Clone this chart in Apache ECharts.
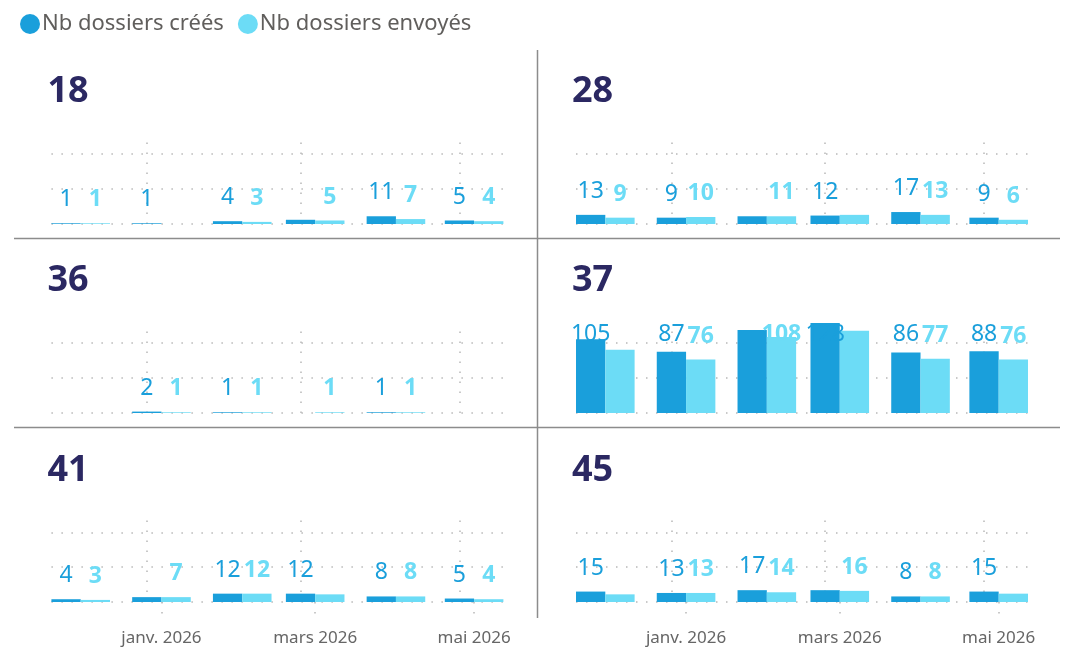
<!DOCTYPE html>
<html>
<head>
<meta charset="utf-8">
<script src="https://cdn.jsdelivr.net/npm/echarts@6/dist/echarts.min.js"></script>
<style>
  html, body { margin: 0; padding: 0; background: #ffffff; }
  #chart { width: 1069px; height: 647px; }
</style>
</head>
<body>
<div id="chart"></div>
<script>
// Months (first day of each month) shown in every panel
const months = ['2025-12-01', '2026-01-01', '2026-02-01', '2026-03-01', '2026-04-01', '2026-05-01'];

// Bottom axis ticks
const tickDates = ['2026-01-01', '2026-03-01', '2026-05-01'];
const tickLabels = ['janv. 2026', 'mars 2026', 'mai 2026'];

const seriesNames = ['Nb dossiers créés', 'Nb dossiers envoyés'];

// Values per département (null = no bar)
const created18 = [1, 1, 4, 6, 11, 5];
const sent18    = [1, null, 3, 5, 7, 4];
const created28 = [13, 9, 11, 12, 17, 9];
const sent28    = [9, 10, 11, 13, 13, 6];
const created36 = [null, 2, 1, null, 1, null];
const sent36    = [null, 1, 1, 1, 1, null];
const created37 = [105, 87, 118, 128, 86, 88];
const sent37    = [90, 76, 108, 117, 77, 76];
const created41 = [4, 7, 12, 12, 8, 5];
const sent41    = [3, 7, 12, 11, 8, 4];
const created45 = [15, 13, 17, 17, 8, 15];
const sent45    = [11, 13, 14, 16, 8, 12];

// Labels left out because they collide with a neighbour: [series, month]
const hiddenLabels = {
  '18': [[0, 3]],
  '28': [[0, 2], [1, 3]],
  '36': [],
  '37': [[1, 0], [0, 2], [1, 3]],
  '41': [[0, 1], [1, 3]],
  '45': [[1, 0], [0, 3], [1, 5]]
};

const panels = [
  { title: '18', created: created18, sent: sent18 },
  { title: '28', created: created28, sent: sent28 },
  { title: '36', created: created36, sent: sent36 },
  { title: '37', created: created37, sent: sent37 },
  { title: '41', created: created41, sent: sent41 },
  { title: '45', created: created45, sent: sent45 }
];

// ---- styling / layout ----
const COLORS = ['#1a9fdb', '#6cdcf6'];
const GRID_LINE = { color: '#b8b8b8', width: 1.5, type: [1.5, 8.5] };
const colLeft = [51.4, 576];
const gridWidth = 452;
const rowTop = [134, 323, 513];
const gridHeight = 90;
const DAY = 86400000;

// dates are placed on a continuous day scale (days since 1970-01-01, UTC)
function toDay(s) {
  const p = s.split('-').map(Number);
  return Date.UTC(p[0], p[1] - 1, p[2]) / DAY;
}

const monthDays = months.map(toDay);
const halfGroup = 11.25;
const xMin = monthDays[0] - halfGroup;
const xMax = monthDays[monthDays.length - 1] + halfGroup;
const tickDays = tickDates.map(toDay);

let yMax = 0;
panels.forEach(p => p.created.concat(p.sent).forEach(v => { if (v != null && v > yMax) yMax = v; }));

const grids = [], xAxes = [], yAxes = [], titles = [], series = [];

panels.forEach((p, i) => {
  const row = Math.floor(i / 2), col = i % 2;
  const top = rowTop[row];
  const isBottom = row === 2;

  grids.push({ left: colLeft[col], top: top, width: gridWidth, height: gridHeight });

  titles.push({
    text: p.title, left: colLeft[col] - 4, top: top - 60, padding: 0,
    textStyle: { fontFamily: 'Noto Sans', fontSize: 36, fontWeight: 'bold', color: '#2b2862' }
  });

  xAxes.push({
    type: 'value', gridIndex: i, min: xMin, max: xMax,
    axisLine: { show: false },
    axisTick: { show: isBottom, customValues: tickDays, length: 17, lineStyle: GRID_LINE },
    axisLabel: {
      show: isBottom, customValues: tickDays, margin: 28,
      fontFamily: 'Noto Sans', fontSize: 17, color: '#666666',
      formatter: v => { const k = tickDays.indexOf(v); return k >= 0 ? tickLabels[k] : ''; }
    },
    splitLine: { show: false }
  });

  yAxes.push({
    type: 'value', gridIndex: i, min: 0, max: yMax, interval: 50,
    axisLine: { show: false }, axisTick: { show: false }, axisLabel: { show: false },
    splitLine: { show: true, showMaxLine: false, lineStyle: GRID_LINE }
  });

  const hidden = hiddenLabels[p.title];
  [p.created, p.sent].forEach((vals, s) => {
    const data = [];
    vals.forEach((v, m) => {
      if (v == null) return;
      const item = { value: [monthDays[m], v] };
      if (hidden.some(h => h[0] === s && h[1] === m)) item.label = { show: false };
      data.push(item);
    });
    const bar = {
      type: 'bar', name: seriesNames[s], xAxisIndex: i, yAxisIndex: i,
      barWidth: 29.3, barGap: '0%',
      itemStyle: { color: COLORS[s] },
      label: {
        show: true, position: 'top', distance: 12,
        fontFamily: 'Noto Sans', fontSize: 23,
        fontWeight: s === 0 ? 'normal' : 'bold', color: COLORS[s]
      },
      // keep labels inside the panel's plotting area
      labelLayout: function (params) {
        if (params.labelRect && params.labelRect.y < top) {
          return {
            x: params.rect.x + params.rect.width / 2, y: top,
            align: 'center', verticalAlign: 'top'
          };
        }
        return {};
      },
      data: data
    };
    if (s === 0) {
      // vertical dotted gridlines at the labelled months
      bar.markLine = {
        silent: true, symbol: 'none', label: { show: false },
        lineStyle: GRID_LINE, z: 0,
        data: tickDays.map(d => ({ xAxis: d }))
      };
    }
    series.push(bar);
  });
});

const chart = echarts.init(document.getElementById('chart'), null, { renderer: 'canvas' });
chart.setOption({
  animation: false,
  title: titles,
  legend: {
    left: 15, top: 8, icon: 'circle', itemWidth: 20, itemHeight: 20, itemGap: 14,
    selectedMode: false,
    textStyle: { fontFamily: 'Noto Sans', fontSize: 22, color: '#605e5c', padding: [0, 0, 0, -3] },
    data: [
      { name: seriesNames[0], itemStyle: { color: COLORS[0] } },
      { name: seriesNames[1], itemStyle: { color: COLORS[1] } }
    ]
  },
  grid: grids,
  xAxis: xAxes,
  yAxis: yAxes,
  series: series,
  graphic: [
    { type: 'line', shape: { x1: 537.5, y1: 50, x2: 537.5, y2: 618 }, style: { stroke: '#8c8c8c', lineWidth: 1.5 } },
    { type: 'line', shape: { x1: 14, y1: 238.5, x2: 1060, y2: 238.5 }, style: { stroke: '#8c8c8c', lineWidth: 1.5 } },
    { type: 'line', shape: { x1: 14, y1: 427.5, x2: 1060, y2: 427.5 }, style: { stroke: '#8c8c8c', lineWidth: 1.5 } }
  ]
});
</script>
</body>
</html>
